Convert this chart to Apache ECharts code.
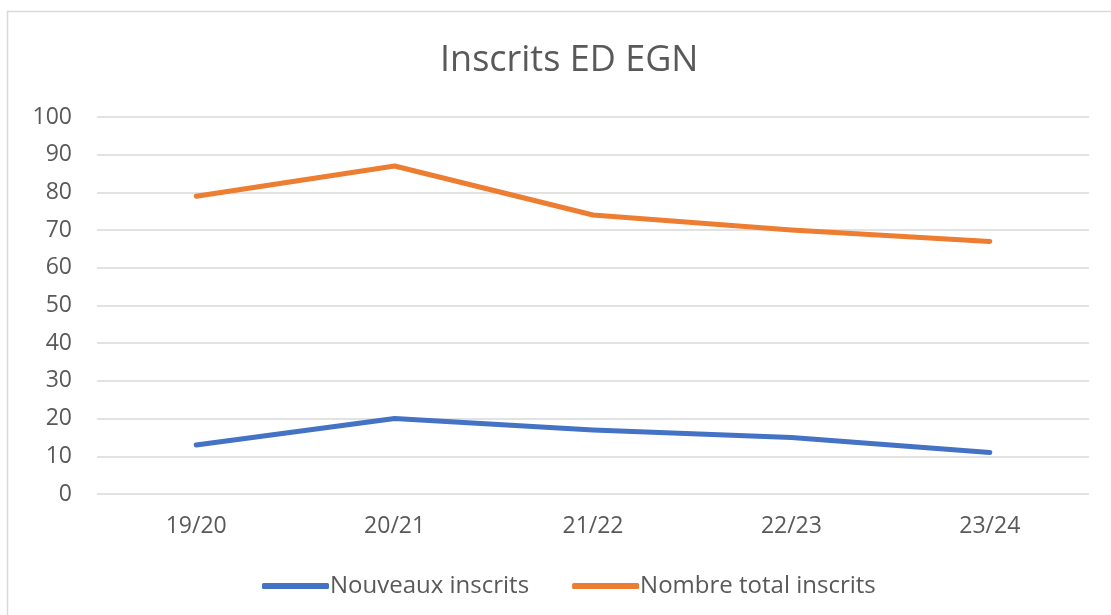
<!DOCTYPE html>
<html>
<head>
<meta charset="utf-8">
<title>Inscrits ED EGN</title>
<script src="https://cdn.jsdelivr.net/npm/echarts@6/dist/echarts.min.js"></script>
<style>
  html, body { margin: 0; padding: 0; background: #fff; }
  #chart { width: 1111px; height: 615px; }
</style>
</head>
<body>
<div id="chart"></div>
<script>
(function() {
    'use strict';

    // données
    var years = ["19/20", "20/21", "21/22", "22/23", "23/24"];
    var nouveauxInscrits = [13, 20, 17, 15, 11];
    var totalInscrits = [79, 87, 74, 70, 67];
    var seriesNames = ["Nouveaux inscrits", "Nombre total inscrits"];

    var textColor = "#595959";
    var fontFamily = "'Open Sans', 'Noto Sans', sans-serif";

    var chart = echarts.init(document.getElementById("chart"));

    chart.setOption({
        animation : false,
        color : ["#4472C4", "#ED7D31"],
        textStyle : { fontFamily : fontFamily, color : textColor },
        title : {
            text : "Inscrits ED EGN",
            left : 435,
            top : 38,
            textStyle : { fontFamily : fontFamily, fontSize : 36, fontWeight : "normal", color : textColor }
        },
        // cadre du graphique
        graphic : [{
            type : "rect",
            shape : { x : 7.5, y : 11.5, width : 1200, height : 700 },
            style : { fill : "none", stroke : "#d9d9d9", lineWidth : 1.5 },
            silent : true
        }],
        legend : {
            data : seriesNames,
            left : 257,
            top : 569,
            icon : "roundRect",
            itemWidth : 67,
            itemHeight : 6,
            itemGap : 43,
            textStyle : { fontFamily : fontFamily, fontSize : 24, color : textColor, padding : [0, 0, 0, -4] }
        },
        grid : { left : 97, right : 22, top : 117, bottom : 121 },
        xAxis : {
            type : "category",
            data : years,
            boundaryGap : true,
            axisLine : { show : false },
            axisTick : { show : false },
            axisLabel : { fontSize : 23, color : textColor, margin : 21 }
        },
        yAxis : {
            type : "value",
            min : 0,
            max : 100,
            interval : 10,
            axisLine : { show : false },
            axisTick : { show : false },
            axisLabel : { fontSize : 23, color : textColor, margin : 25 },
            splitLine : { lineStyle : { color : "#d9d9d9", width : 1.5 } }
        },
        series : [{
            name : seriesNames[0],
            type : "line",
            data : nouveauxInscrits,
            showSymbol : false,
            lineStyle : { width : 5, cap : "round", join : "round" }
        }, {
            name : seriesNames[1],
            type : "line",
            data : totalInscrits,
            showSymbol : false,
            lineStyle : { width : 5, cap : "round", join : "round" }
        }]
    });
})();
</script>
</body>
</html>
